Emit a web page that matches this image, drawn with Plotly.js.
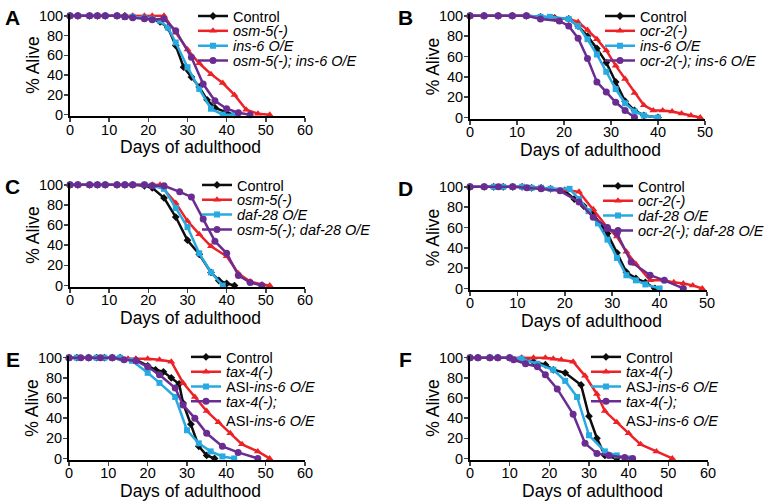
<!DOCTYPE html>
<html>
<head>
<meta charset="utf-8">
<script src="https://cdn.plot.ly/plotly-3.0.1.min.js"></script>
<style>
  html, body { margin: 0; padding: 0; background: #fff; }
  #chart { width: 773px; height: 504px; }
</style>
</head>
<body>
<div id="chart"></div>
<script>
// ---- data (days of adulthood, % alive) ----
// Panel A
const daysA_ctrl = [0,2,5,7,9,12,14,16,19,21,23,25,27,29,31,33,35,37,40,42];
const aliveA_ctrl = [100,100,100,100,100,100,100,99,98,97,94,88,70,48,38,28,15,7,2,0];
const daysA_mut = [0,2,5,7,9,12,14,16,19,21,24,27,30,33,36,39,42,45,48,51];
const aliveA_mut = [100,100,100,100,100,100,100,100,100,100,100,83,66,52,41,32,20,5,1,0];
const daysA_oe = [0,2,5,7,9,12,14,16,19,21,23,25,27,30,33,36,39,42];
const aliveA_oe = [100,100,100,100,100,100,99,99,98,97,95,88,73,48,26,6,0,0];
const daysA_dbl = [0,2,5,7,9,12,14,16,19,21,24,27,31,34,37,40,43,46];
const aliveA_dbl = [100,100,100,100,100,100,99,98,97,96,97,85,58,31,14,6,2,0];

// Panel B
const daysB_ctrl = [0,3,6,9,12,15,18,21,23,25,27,29,31,33,35,37,40];
const aliveB_ctrl = [100,100,100,100,100,99,98,97,90,80,68,54,35,16,7,2,0];
const daysB_mut = [0,3,6,9,12,15,18,21,23,25,27,29,31,33,35,37,39,41,43,45,47,49];
const aliveB_mut = [100,100,100,100,100,99,98,97,94,86,77,66,51,38,24,12,7,7,6,4,2,0];
const daysB_oe = [0,3,6,9,12,15,17,21,23,25,27,29,31,33,35,37,40];
const aliveB_oe = [100,100,100,100,100,99,99,97,90,77,62,45,28,14,6,2,0];
const daysB_dbl = [0,3,6,9,12,15,19,21,23,25,27,29,31,33,35];
const aliveB_dbl = [100,100,100,100,100,97,95,90,78,58,35,25,15,7,0];

// Panel C
const daysC_ctrl = [0,2,5,7,9,12,14,16,19,21,24,27,30,33,36,38,40,42];
const aliveC_ctrl = [100,100,100,100,100,100,100,100,99,97,87,68,45,31,13,5,2,0];
const daysC_mut = [0,2,5,7,9,12,14,16,19,21,23,27,30,33,36,40,43,46,49,51];
const aliveC_mut = [100,100,100,100,100,100,100,100,100,100,100,82,64,51,39,29,12,4,1,0];
const daysC_oe = [0,2,5,7,9,12,14,16,19,21,24,27,30,33,36,39];
const aliveC_oe = [100,100,100,100,100,100,100,100,100,99,96,77,58,32,13,0];
const daysC_dbl = [0,2,5,7,9,12,14,16,19,21,24,28,31,34,37,40,43,46,49];
const aliveC_dbl = [100,100,100,100,100,100,100,100,100,99,99,93,88,66,44,32,10,3,0];

// Panel D
const daysD_ctrl = [0,3,5,7,9,11,13,15,17,20,22,24,26,29,31,33,35,37,39];
const aliveD_ctrl = [100,100,100,100,100,100,99,99,98,96,88,81,73,54,35,16,10,6,0];
const daysD_mut = [0,3,5,7,9,11,13,15,17,20,23,26,29,31,33,35,38,41,43,45,47,49];
const aliveD_mut = [100,100,100,100,100,100,99,99,98,97,95,78,60,51,36,24,8,8,6,5,3,0];
const daysD_oe = [0,3,5,7,9,11,13,15,17,21,23,25,27,29,31,33,35,37,40];
const aliveD_oe = [100,100,100,100,100,100,99,99,98,98,88,76,64,48,30,13,8,4,0];
const daysD_dbl = [0,3,6,9,12,15,19,23,26,29,31,34,38,41,45];
const aliveD_dbl = [100,100,100,100,99,98,96,85,70,60,54,26,13,8,0];

// Panel E
const daysE_ctrl = [0,2,5,7,9,11,13,17,20,22,24,26,28,29,31,33,35,37];
const aliveE_ctrl = [100,100,100,100,100,100,100,98,92,88,86,80,74,55,34,12,3,0];
const daysE_mut = [0,2,5,7,9,11,13,15,17,20,23,26,29,32,35,38,41,44,48,51];
const aliveE_mut = [100,100,100,100,100,100,100,99,99,99,98,96,75,61,47,36,25,14,7,0];
const daysE_oe = [0,2,5,7,9,11,13,16,20,23,27,30,33,36,39,42];
const aliveE_oe = [100,100,100,100,100,100,100,97,85,75,61,28,15,7,2,0];
const daysE_dbl = [0,3,5,8,11,14,17,20,23,27,29,32,35,39,43,48];
const aliveE_dbl = [100,100,100,100,100,98,97,91,83,70,53,40,25,12,6,0];

// Panel F
const daysF_ctrl = [0,2,5,7,10,13,16,19,21,24,28,30,32,34,37];
const aliveF_ctrl = [100,100,100,100,100,99,96,93,88,85,73,42,20,3,0];
const daysF_mut = [0,2,5,7,10,13,16,19,21,23,26,29,32,34,37,40,43,47,51];
const aliveF_mut = [100,100,100,100,100,100,100,100,99,98,96,82,64,47,36,25,14,7,0];
const daysF_oe = [0,2,5,7,10,13,17,21,24,27,30,34,37,40];
const aliveF_oe = [100,100,100,100,100,99,94,88,77,61,23,7,3,0];
const daysF_dbl = [0,2,5,7,10,11,14,17,19,22,26,29,32,35,39,41];
const aliveF_dbl = [100,100,100,100,100,98,94,91,83,69,44,15,5,3,1,0];

// legend labels
const namesA = ['Control', '<i>osm-5(-)</i>', '<i>ins-6 O/E</i>', '<i>osm-5(-); ins-6 O/E</i>'];
const namesB = ['Control', '<i>ocr-2(-)</i>', '<i>ins-6 O/E</i>', '<i>ocr-2(-); ins-6 O/E</i>'];
const namesC = ['Control', '<i>osm-5(-)</i>', '<i>daf-28 O/E</i>', '<i>osm-5(-); daf-28 O/E</i>'];
const namesD = ['Control', '<i>ocr-2(-)</i>', '<i>daf-28 O/E</i>', '<i>ocr-2(-); daf-28 O/E</i>'];
const namesE = ['Control', '<i>tax-4(-)</i>', 'ASI-<i>ins-6 O/E</i>', '<i>tax-4(-);</i><br>ASI-<i>ins-6 O/E</i>'];
const namesF = ['Control', '<i>tax-4(-)</i>', 'ASJ-<i>ins-6 O/E</i>', '<i>tax-4(-);</i><br>ASJ-<i>ins-6 O/E</i>'];

const xTicksA = [0, 10, 20, 30, 40, 50, 60];
const xTicksB = [0, 10, 20, 30, 40, 50];
const yTicks = [0, 20, 40, 60, 80, 100];

// ---- styling ----
const W = 773, H = 504;
const FONT = 'Liberation Sans, Arial, Helvetica, sans-serif';
const colors = ['#0d0d0d', '#ec2227', '#27aae1', '#6b2c91'];
const symbols = ['diamond', 'triangle-up', 'square', 'circle'];
const msize = [6, 7, 6, 7];

// panel geometry in pixels: x of day 0 and day xmax, y of 100% and 0%,
// legend left edge and centre of each legend row
const panels = [
  {id: 'A', x0: 70, x1: 305, xmax: 60, y100: 10, y0: 113, lx: 193, rows: [10, 25, 40, 55], names: namesA, ticks: xTicksA,
   data: [[daysA_ctrl, aliveA_ctrl], [daysA_mut, aliveA_mut], [daysA_oe, aliveA_oe], [daysA_dbl, aliveA_dbl]]},
  {id: 'B', x0: 470, x1: 705, xmax: 50, y100: 10, y0: 116, lx: 600, rows: [10, 25, 40, 55], names: namesB, ticks: xTicksB,
   data: [[daysB_ctrl, aliveB_ctrl], [daysB_mut, aliveB_mut], [daysB_oe, aliveB_oe], [daysB_dbl, aliveB_dbl]]},
  {id: 'C', x0: 70, x1: 305, xmax: 60, y100: 181, y0: 286, lx: 197, rows: [181, 196, 211, 226], names: namesC, ticks: xTicksA,
   data: [[daysC_ctrl, aliveC_ctrl], [daysC_mut, aliveC_mut], [daysC_oe, aliveC_oe], [daysC_dbl, aliveC_dbl]]},
  {id: 'D', x0: 470, x1: 707, xmax: 50, y100: 183, y0: 289, lx: 598, rows: [182, 197, 212, 227], names: namesD, ticks: xTicksB,
   data: [[daysD_ctrl, aliveD_ctrl], [daysD_mut, aliveD_mut], [daysD_oe, aliveD_oe], [daysD_dbl, aliveD_dbl]]},
  {id: 'E', x0: 69, x1: 305, xmax: 60, y100: 356, y0: 461, lx: 186, rows: [355, 370, 385, 400], names: namesE, ticks: xTicksA,
   data: [[daysE_ctrl, aliveE_ctrl], [daysE_mut, aliveE_mut], [daysE_oe, aliveE_oe], [daysE_dbl, aliveE_dbl]]},
  {id: 'F', x0: 470, x1: 708, xmax: 60, y100: 356, y0: 461, lx: 586, rows: [355, 370, 385, 400], names: namesF, ticks: xTicksA,
   data: [[daysF_ctrl, aliveF_ctrl], [daysF_mut, aliveF_mut], [daysF_oe, aliveF_oe], [daysF_dbl, aliveF_dbl]]}
];

const YLO = -1.5, YHI = 101.5;
const traces = [];
const layout = {
  width: W, height: H,
  margin: {l: 0, r: 0, t: 0, b: 0},
  paper_bgcolor: '#fff', plot_bgcolor: 'rgba(0,0,0,0)',
  font: {family: FONT, color: '#000', size: 14},
  showlegend: true,
  annotations: []
};

let legendCount = 0;
panels.forEach((p, i) => {
  const n = i + 1;
  const sfx = n === 1 ? '' : String(n);
  const per = (p.y0 - p.y100) / 100;
  const top = p.y100 - (YHI - 100) * per;
  const bot = p.y0 - (0 - YLO) * per;

  p.data.forEach((s, k) => {
    // one legend per row so the rows can sit as tightly as in the figure
    legendCount += 1;
    const lg = legendCount === 1 ? 'legend' : 'legend' + legendCount;
    traces.push({
      x: s[0], y: s[1],
      type: 'scatter', mode: 'lines+markers',
      name: p.names[k],
      xaxis: 'x' + sfx, yaxis: 'y' + sfx,
      legend: lg,
      cliponaxis: false,
      line: {color: colors[k], width: 2.5},
      marker: {color: colors[k], symbol: symbols[k], size: msize[k]}
    });
    layout[lg] = {
      x: p.lx / W, y: 1 - (p.rows[k] - 16) / H, xanchor: 'left', yanchor: 'top',
      valign: 'top',
      bgcolor: 'rgba(0,0,0,0)', borderwidth: 0,
      font: {size: 14.5, family: FONT, color: '#000'},
      itemwidth: 30, tracegroupgap: 0
    };
  });

  layout['xaxis' + sfx] = {
    domain: [p.x0 / W, p.x1 / W], anchor: 'y' + sfx,
    range: [0, p.xmax], tickvals: p.ticks, ticks: 'outside', ticklen: 4, tickwidth: 1.5,
    ticklabelstandoff: -5,
    showline: true, linewidth: 2, linecolor: '#000', showgrid: false, zeroline: false,
    tickfont: {size: 14.5, family: FONT}, fixedrange: true
  };
  layout['yaxis' + sfx] = {
    domain: [1 - bot / H, 1 - top / H], anchor: 'x' + sfx,
    range: [YLO, YHI], tickvals: yTicks, ticks: 'outside', ticklen: 4, tickwidth: 1.5,
    ticklabelstandoff: -2,
    showline: true, linewidth: 2, linecolor: '#000', showgrid: false, zeroline: false,
    tickfont: {size: 14.5, family: FONT}, fixedrange: true
  };

  // panel letter and axis titles
  const midX = (p.x0 + p.x1) / 2 + 3;
  layout.annotations.push(
    {text: '<b>' + p.id + '</b>', xref: 'paper', yref: 'paper', x: 13 / W + (p.x0 > 300 ? 392 / W : 0),
     y: 1 - (p.y100 + 2) / H, xanchor: 'center', yanchor: 'middle', showarrow: false,
     font: {size: 21, family: FONT}},
    {text: 'Days of adulthood', xref: 'paper', yref: 'paper', x: midX / W, y: 1 - (p.y0 + 30) / H,
     xanchor: 'center', yanchor: 'middle', showarrow: false, font: {size: 17.5, family: FONT}},
    {text: '% Alive', xref: 'paper', yref: 'paper', x: (p.x0 - 37) / W, y: 1 - ((p.y0 + p.y100) / 2 - 1) / H,
     xanchor: 'center', yanchor: 'middle', textangle: -90, showarrow: false, font: {size: 17.5, family: FONT}}
  );
});

Plotly.newPlot('chart', traces, layout, {staticPlot: true});
</script>
</body>
</html>
